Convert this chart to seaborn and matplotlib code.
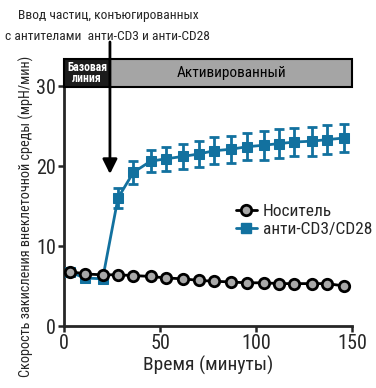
import matplotlib
matplotlib.use("Agg")
import matplotlib.pyplot as plt
import matplotlib.font_manager as fm
import seaborn as sns
import pandas as pd
from matplotlib.patches import Rectangle
from matplotlib.lines import Line2D

sns.set_style("ticks")

# pick a condensed font if one exists
entries = fm.fontManager.ttflist
names = {f.name for f in entries}
chosen, stretch, kind = "Roboto", "normal", "R"
for cand in ["Roboto Condensed", "Liberation Sans Narrow", "Open Sans Condensed",
             "Noto Sans Condensed", "DejaVu Sans Condensed"]:
    if cand in names:
        chosen, kind = cand, "C"
        break
else:
    for f in entries:
        if f.name in ("Roboto", "DejaVu Sans", "Noto Sans", "Open Sans") and \
                str(f.stretch) in ("condensed", "semi-condensed", "75", "87.5"):
            chosen, stretch, kind = f.name, f.stretch, "C"
            break
plt.rcParams['font.family'] = [chosen, 'DejaVu Sans']
plt.rcParams['font.stretch'] = stretch
C = kind == "C"

# ---- data ----
time_min = [3, 11, 20, 28, 36, 45, 53, 62, 70, 78, 87, 95, 104, 112, 120, 129, 137, 146]
vehicle = [6.8, 6.5, 6.4, 6.4, 6.3, 6.2, 6.0, 5.9, 5.7, 5.6, 5.5, 5.4, 5.4, 5.3, 5.3, 5.3, 5.3, 5.0]
anti_cd3_cd28 = [6.7, 6.0, 5.9, 16.0, 19.2, 20.6, 20.9, 21.2, 21.5, 21.9, 22.1, 22.4, 22.6, 22.8, 23.0, 23.1, 23.3, 23.5]
anti_err = [0.2, 0.2, 0.2, 1.2, 1.4, 1.4, 1.5, 1.6, 1.6, 1.7, 1.7, 1.7, 1.8, 1.8, 1.8, 1.8, 1.8, 1.8]
x_ticks = [0, 50, 100, 150]
y_ticks = [0, 10, 20, 30]
injection_time = 23.8
series_names = ["Носитель", "анти-CD3/CD28"]
phase_labels = ["Базовая\nлиния", "Активированный"]
title_lines = ["Ввод частиц, конъюгированных", "с антителами  анти-CD3 и анти-CD28"]
x_label = "Время (минуты)"
y_label = "Скорость закисления внеклеточной среды (мрН/мин)"

BLUE = "#12719f"

df = pd.DataFrame({
    "t": time_min * 2,
    "v": vehicle + anti_cd3_cd28,
    "g": [series_names[0]] * len(time_min) + [series_names[1]] * len(time_min),
})

fig = plt.figure(figsize=(3.76, 3.88), dpi=100)
ax = fig.add_axes([64.3 / 376, 62 / 388, 287.7 / 376, 240 / 388])

ax.errorbar(time_min, anti_cd3_cd28, yerr=anti_err, fmt='none', ecolor=BLUE,
            elinewidth=2, capsize=3.5, capthick=2, zorder=2)
sns.lineplot(data=df[df.g == series_names[1]], x="t", y="v", ax=ax, color=BLUE,
             marker="s", markersize=7, markeredgecolor=BLUE, linewidth=2, zorder=3,
             legend=False)
sns.lineplot(data=df[df.g == series_names[0]], x="t", y="v", ax=ax, color="black",
             marker="o", markersize=7.5, markerfacecolor="#a8a8a8",
             markeredgecolor="black", markeredgewidth=2, linewidth=2, zorder=4,
             legend=False)

ax.set_xlim(0, 150)
ax.set_ylim(0, 30)
ax.set_xticks(x_ticks)
ax.set_yticks(y_ticks)
ax.tick_params(axis='both', labelsize=14.5 if C else 14, width=1.8, length=4, pad=2)
for s in ["top", "right"]:
    ax.spines[s].set_visible(False)
for s in ["left", "bottom"]:
    ax.spines[s].set_linewidth(2)

ax.set_xlabel(x_label, fontsize=14 if C else 13.5, labelpad=2)
ax.set_ylabel(y_label, fontsize=10.3 if C else 8.6)
ax.yaxis.set_label_coords(-0.105, 0.455)

# header bar
ax.add_patch(Rectangle((0, 29.9), injection_time, 3.5, facecolor="#1c1c1c",
                       edgecolor="black", linewidth=1.5, clip_on=False, zorder=5))
ax.add_patch(Rectangle((injection_time, 29.9), 150 - injection_time, 3.5, facecolor="#a5a5a5",
                       edgecolor="black", linewidth=1.5, clip_on=False, zorder=5))
ax.text(injection_time / 2, 31.65, phase_labels[0], ha="center", va="center",
        color="white", fontsize=8.5 if C else 7.2, fontweight="bold", linespacing=0.85, zorder=6)
ax.text((injection_time + 150) / 2, 31.65, phase_labels[1], ha="center", va="center",
        color="black", fontsize=11 if C else 9.5, zorder=6)

# arrow
ax.annotate("", xy=(injection_time, 19.0), xytext=(injection_time, 35.5),
            xycoords="data", textcoords="data", annotation_clip=False,
            arrowprops=dict(arrowstyle="-|>", color="black", lw=2,
                            mutation_scale=22, shrinkA=0, shrinkB=0), zorder=7)
fig.text(108 / 376, 1 - 15 / 388, title_lines[0], ha="center", va="center",
         fontsize=9.7 if C else 8.3)
fig.text(107 / 376, 1 - 37 / 388, title_lines[1], ha="center", va="center",
         fontsize=9.7 if C else 8.3)

handles = [
    Line2D([], [], color="black", marker="o", markersize=7.5, markerfacecolor="#a8a8a8",
           markeredgecolor="black", markeredgewidth=2, linewidth=2),
    Line2D([], [], color=BLUE, marker="s", markersize=7, linewidth=2),
]
ax.legend(handles, series_names, loc="center left", bbox_to_anchor=(0.572, 0.44),
          frameon=False, fontsize=12.5 if C else 11, handlelength=1.2,
          handletextpad=0.35, labelspacing=0.15, borderaxespad=0)

fig.savefig("out.png", dpi=100)
